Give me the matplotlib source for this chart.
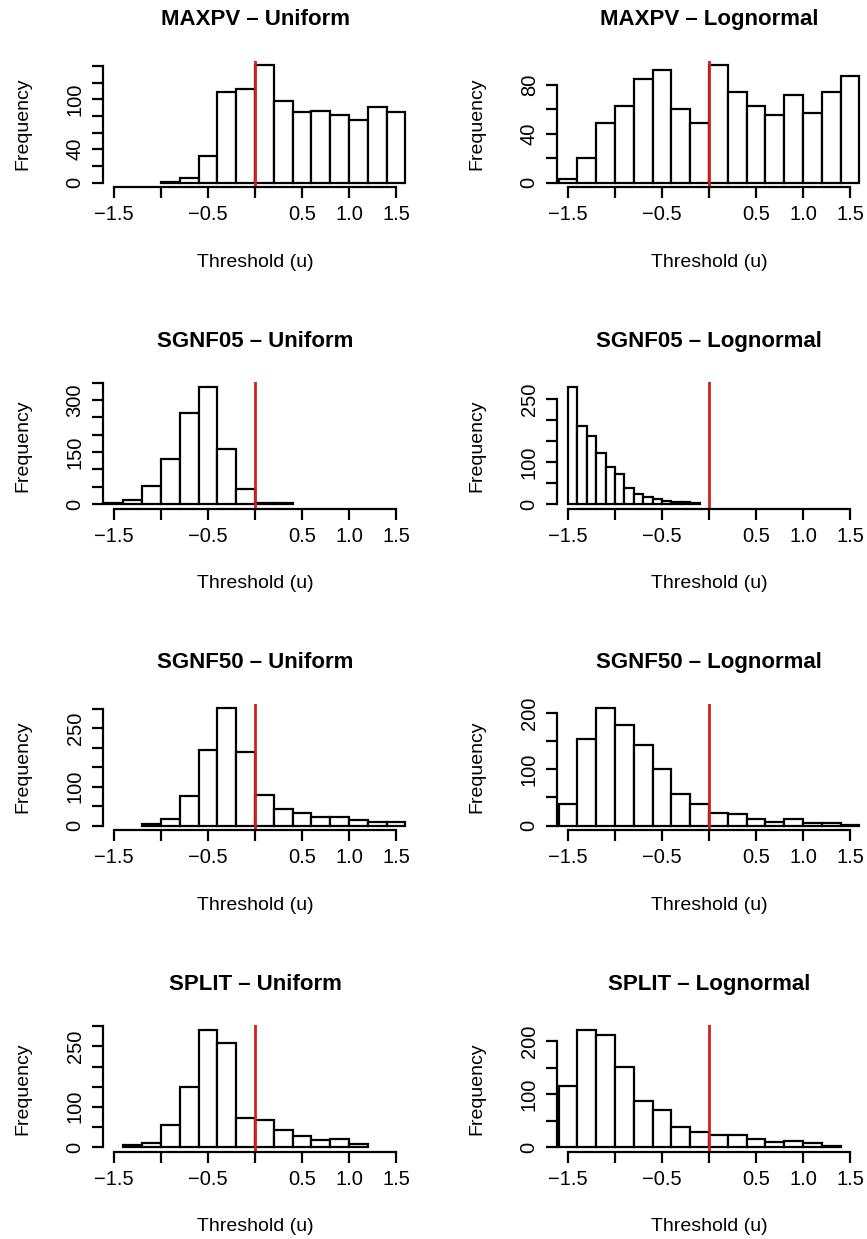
import matplotlib.pyplot as plt
import numpy as np

plt.rcParams['font.family'] = ['Liberation Sans', 'DejaVu Sans']

titles = ["MAXPV \u2013 Uniform", "MAXPV \u2013 Lognormal",
          "SGNF05 \u2013 Uniform", "SGNF05 \u2013 Lognormal",
          "SGNF50 \u2013 Uniform", "SGNF50 \u2013 Lognormal",
          "SPLIT \u2013 Uniform", "SPLIT \u2013 Lognormal"]

# first break and bin width of each histogram
bin_starts = [-1.0, -1.6, -1.6, -1.5, -1.2, -1.6, -1.4, -1.6]
bin_widths = [0.2, 0.2, 0.2, 0.1, 0.2, 0.2, 0.2, 0.2]

# counts per bin
maxpv_unif = [1, 6, 32, 109, 112, 141, 98, 85, 86, 81, 75, 91, 85]
maxpv_logn = [3, 20, 49, 63, 85, 92, 60, 49, 96, 74, 63, 55, 72, 57, 74, 87]
sgnf05_unif = [4, 12, 51, 129, 263, 338, 159, 43, 4, 3]
sgnf05_logn = [279, 185, 163, 122, 88, 71, 37, 25, 16, 12, 7, 4, 5, 2]
sgnf50_unif = [3, 17, 76, 193, 301, 188, 79, 43, 33, 21, 21, 13, 10, 9]
sgnf50_logn = [39, 155, 209, 180, 144, 100, 56, 39, 22, 20, 12, 6, 11, 5, 4, 1]
split_unif = [4, 10, 55, 150, 291, 259, 72, 66, 43, 28, 18, 20, 8]
split_logn = [115, 222, 213, 152, 88, 70, 38, 29, 23, 23, 15, 10, 11, 7, 2]
counts = [maxpv_unif, maxpv_logn, sgnf05_unif, sgnf05_logn,
          sgnf50_unif, sgnf50_logn, split_unif, split_logn]

# y axis ticks and the ones that carry a label
y_ticks = [[0, 20, 40, 60, 80, 100, 120, 140], [0, 20, 40, 60, 80],
           [0, 50, 100, 150, 200, 250, 300, 350], [0, 50, 100, 150, 200, 250],
           [0, 50, 100, 150, 200, 250, 300], [0, 50, 100, 150, 200],
           [0, 50, 100, 150, 200, 250, 300], [0, 50, 100, 150, 200]]
y_shown = [[0, 40, 100], [0, 40, 80], [0, 150, 300], [0, 100, 250],
           [0, 100, 250], [0, 100, 200], [0, 100, 250], [0, 100, 200]]

x_ticks = [-1.5, -1.0, -0.5, 0.0, 0.5, 1.0, 1.5]
x_labels = ["\u22121.5", "", "\u22120.5", "", "0.5", "1.0", "1.5"]
threshold = 0.0

W, H = 867, 1239
fig = plt.figure(figsize=(W / 100, H / 100), dpi=100)

ax_w, ax_h = 304.6, 126.5
col_left = [102.7, 556.7]

for i in range(8):
    r, c = divmod(i, 2)
    bottom = 187.2 + 321.5 * r
    ax = fig.add_axes([col_left[c] / W, 1 - bottom / H, ax_w / W, ax_h / H])

    n = np.array(counts[i], dtype=float)
    edges = bin_starts[i] + bin_widths[i] * np.arange(len(n) + 1)
    ax.hist(edges[:-1], bins=edges, weights=n, color="white",
            edgecolor="black", linewidth=1.6)
    ax.axvline(threshold, color="#d41f1f", linewidth=2.0)

    top = n.max()
    ax.set_xlim(-1.62, 1.62)
    ax.set_ylim(-0.04 * top, 1.04 * top)

    for s in ["top", "right"]:
        ax.spines[s].set_visible(False)
    ax.spines["left"].set_bounds(0, y_ticks[i][-1])
    ax.spines["bottom"].set_bounds(-1.5, 1.5)
    ax.spines["left"].set_linewidth(1.6)
    ax.spines["bottom"].set_linewidth(1.6)

    ax.set_xticks(x_ticks, x_labels)
    ax.set_yticks(y_ticks[i],
                  [str(t) if t in y_shown[i] else "" for t in y_ticks[i]])
    ax.tick_params(length=8, width=1.6, labelsize=14.5, pad=5)
    ax.tick_params(axis="y", labelrotation=90)
    for lab in ax.get_yticklabels():
        lab.set_va("center")

    ax.text(0.5, 1 + 41 / ax_h, titles[i], transform=ax.transAxes,
            ha="center", va="center", fontsize=16, fontweight="bold")
    ax.text(0.5, -75 / ax_h, "Threshold (u)", transform=ax.transAxes,
            ha="center", va="center", fontsize=14)
    ax.text(-80 / ax_w, 0.5, "Frequency", transform=ax.transAxes,
            ha="center", va="center", rotation=90, fontsize=14)

fig.savefig("out.png", dpi=100)
